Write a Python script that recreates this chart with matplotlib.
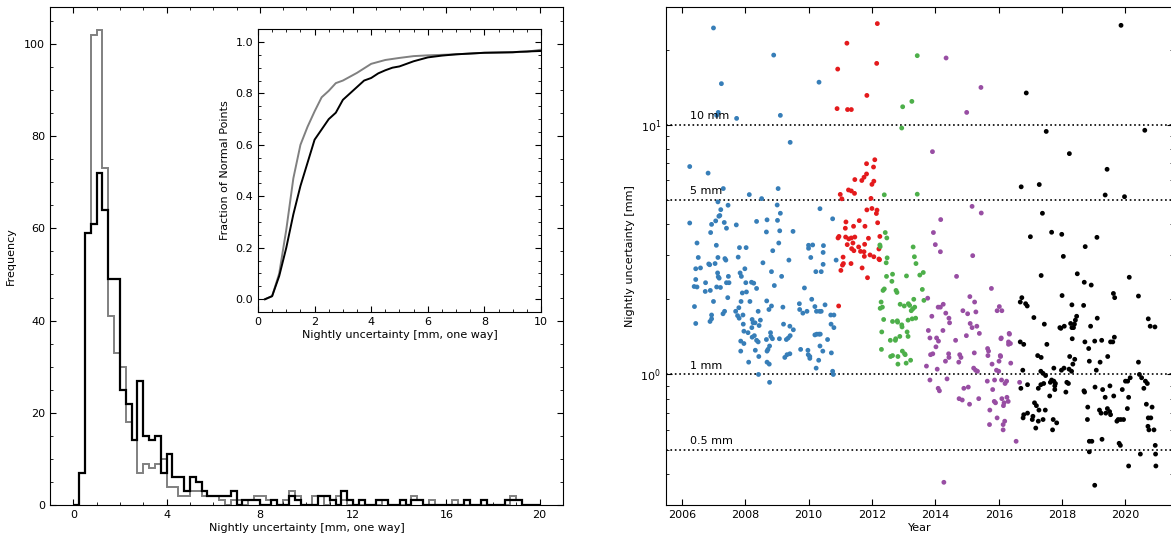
import numpy as np
import matplotlib
matplotlib.use("Agg")
import matplotlib.pyplot as plt
from matplotlib.ticker import MultipleLocator, NullLocator

# ---- histogram: counts per 0.25 mm bin, 0..20 mm ----
bin_edges = np.arange(0, 20.01, 0.25)
counts_black = [0, 7, 59, 61, 72, 64, 49, 49, 25, 22, 14, 27, 15, 14, 15, 7,
                11, 6, 6, 3, 6, 5, 3, 2, 2, 2, 2, 3, 0, 1, 1, 1,
                0, 0, 1, 0, 0, 2, 1, 0, 0, 0, 2, 2, 1, 0, 3, 1,
                0, 1, 0, 0, 1, 1, 0, 0, 1, 0, 1, 1, 0, 0, 0, 0,
                0, 0, 0, 1, 0, 0, 1, 0, 0, 0, 1, 1, 1, 0, 0, 0]
counts_gray = [0, 7, 59, 102, 103, 73, 41, 33, 30, 18, 14, 7, 9, 8, 9, 10,
               4, 4, 2, 2, 3, 3, 2, 2, 2, 1, 0, 1, 1, 0, 1, 2,
               2, 1, 1, 0, 1, 3, 2, 0, 0, 2, 2, 0, 1, 2, 1, 0,
               0, 0, 0, 0, 0, 1, 0, 0, 0, 0, 2, 1, 0, 1, 0, 0,
               0, 1, 0, 0, 0, 0, 0, 0, 0, 0, 0, 2, 1, 0, 0, 0]

# ---- inset: cumulative fraction ----
cdf_x_black = [0.25, 0.5, 0.75, 1.0, 1.25, 1.5, 1.75, 2.0, 2.25, 2.5, 2.75, 3.0,
               3.25, 3.5, 3.75, 4.0, 4.25, 4.5, 4.75, 5.0, 5.5, 6.0, 6.5, 7.0,
               8.0, 9.0, 9.25, 10.0]
cdf_y_black = [0.0, 0.012, 0.09, 0.2, 0.33, 0.44, 0.53, 0.62, 0.66, 0.70, 0.725,
               0.775, 0.80, 0.825, 0.85, 0.86, 0.878, 0.89, 0.90, 0.905, 0.925,
               0.94, 0.947, 0.952, 0.958, 0.96, 0.962, 0.965]
cdf_x_gray = [0.25, 0.5, 0.75, 1.0, 1.25, 1.5, 1.75, 2.0, 2.25, 2.5, 2.75, 3.0,
              3.5, 4.0, 4.5, 5.0, 5.5, 6.0, 7.0, 8.0, 9.0, 9.5, 10.0]
cdf_y_gray = [0.0, 0.012, 0.10, 0.27, 0.47, 0.60, 0.67, 0.73, 0.785, 0.81, 0.84,
              0.85, 0.88, 0.915, 0.93, 0.938, 0.945, 0.948, 0.952, 0.958, 0.96,
              0.962, 0.97]

# ---- nightly uncertainty per campaign: (year, mm) ----
pts_blue = [
    (2007.0, 24.4), (2007.25, 14.6), (2007.1, 10.9), (2007.15, 11.2), (2007.73, 10.6),
    (2008.9, 19.0), (2009.11, 10.9), (2009.42, 8.5), (2010.33, 14.8), (2006.25, 6.8),
    (2006.83, 6.4), (2007.31, 5.55), (2009.04, 5.55), (2008.13, 5.25), (2008.52, 5.06),
    (2007.14, 4.91), (2007.46, 4.76), (2009.01, 4.77), (2007.23, 4.57), (2009.11, 4.42),
    (2010.36, 4.61), (2007.2, 4.33), (2007.17, 4.30), (2006.25, 4.04), (2006.94, 3.99),
    (2007.07, 4.12), (2007.34, 4.06), (2007.41, 3.85), (2007.72, 3.97), (2008.36, 4.1),
    (2008.69, 4.16), (2009.02, 4.14), (2010.76, 4.2), (2006.91, 3.70), (2008.67, 3.72),
    (2009.09, 3.76), (2009.51, 3.74), (2006.48, 3.36), (2007.09, 3.29), (2007.82, 3.22),
    (2008.03, 3.22), (2009.06, 3.36), (2008.87, 3.13), (2010.0, 3.29), (2010.13, 3.30),
    (2010.0, 3.2), (2010.47, 3.28), (2010.46, 3.08), (2006.52, 2.94), (2007.14, 2.94),
    (2007.36, 2.91), (2007.39, 2.87), (2007.78, 2.95), (2009.38, 2.87), (2010.07, 2.94),
    (2010.87, 2.87), (2006.44, 2.65), (2006.59, 2.67), (2006.85, 2.77), (2006.88, 2.75),
    (2007.05, 2.78), (2007.99, 2.65), (2008.56, 2.8), (2008.83, 2.58), (2010.23, 2.58),
    (2010.4, 2.58), (2010.46, 2.76), (2006.44, 2.40), (2007.13, 2.55), (2007.15, 2.46),
    (2007.18, 2.43), (2007.47, 2.47), (2009.15, 2.47), (2006.75, 2.33), (2006.9, 2.17),
    (2006.39, 2.25), (2006.48, 2.24), (2006.74, 2.15), (2007.1, 2.24), (2007.22, 2.23),
    (2007.41, 2.33), (2007.49, 2.33), (2007.0, 1.96), (2007.45, 2.03), (2008.02, 2.33),
    (2008.2, 2.34), (2008.27, 2.32), (2008.36, 2.21), (2008.04, 2.14), (2007.91, 2.12),
    (2007.87, 1.96), (2008.15, 1.96), (2007.7, 1.79), (2007.8, 1.85), (2007.76, 1.72),
    (2007.81, 1.68), (2007.84, 2.55), (2007.88, 2.47), (2007.3, 1.75), (2007.35, 1.79),
    (2006.94, 1.73), (2006.89, 1.63), (2006.94, 1.67), (2006.44, 1.60), (2006.4, 1.87),
    (2007.93, 1.73), (2007.94, 1.59), (2008.09, 1.47), (2007.96, 1.49), (2008.21, 1.54),
    (2008.25, 1.61), (2008.44, 1.57), (2008.48, 1.65), (2008.31, 1.61), (2008.29, 1.43),
    (2008.22, 1.41), (2008.41, 1.79), (2008.68, 1.97), (2008.75, 1.82), (2008.83, 1.88),
    (2009.19, 1.86), (2009.21, 1.59), (2009.41, 1.56), (2009.52, 1.51), (2009.42, 1.43),
    (2009.36, 1.40), (2009.3, 1.38), (2009.08, 1.39), (2008.8, 1.47), (2008.81, 1.42),
    (2008.86, 1.39), (2008.67, 1.38), (2008.77, 1.30), (2008.72, 1.26), (2008.69, 1.24),
    (2008.36, 1.37), (2008.41, 1.35), (2008.32, 1.25), (2007.86, 1.36), (2007.96, 1.33),
    (2007.86, 1.24), (2008.11, 1.12), (2008.43, 1.18), (2008.42, 1.0), (2008.69, 1.12),
    (2008.76, 1.1), (2008.77, 0.93), (2009.25, 1.17), (2009.32, 1.20), (2009.41, 1.21),
    (2009.75, 1.26), (2009.71, 1.92), (2009.72, 1.82), (2009.82, 1.76), (2009.95, 1.79),
    (2009.87, 2.22), (2010.1, 2.0), (2010.2, 1.87), (2010.25, 1.79), (2010.35, 1.79),
    (2010.4, 1.79), (2010.52, 1.9), (2010.7, 1.73), (2010.8, 1.73), (2010.71, 1.59),
    (2010.8, 1.54), (2010.6, 1.38), (2010.2, 1.44), (2010.26, 1.45), (2010.33, 1.45),
    (2010.37, 1.45), (2010.36, 1.3), (2010.45, 1.24), (2009.98, 1.25), (2009.99, 1.2),
    (2010.04, 1.18), (2010.04, 1.16), (2010.32, 1.14), (2010.24, 1.06), (2010.72, 1.22),
    (2010.76, 1.03), (2010.78, 1.0), (2008.92, 2.27), (2008.22, 1.66),
]
pts_red = [
    (2012.17, 25.4), (2011.21, 21.2), (2012.15, 17.6), (2010.92, 16.7), (2011.84, 13.1),
    (2010.9, 11.6), (2011.23, 11.5), (2011.35, 11.5), (2012.09, 7.24), (2011.83, 6.98),
    (2012.05, 6.77), (2011.83, 6.35), (2011.75, 6.16), (2011.68, 5.98), (2011.46, 6.03),
    (2012.06, 5.94), (2012.0, 5.77), (2011.26, 5.48), (2011.35, 5.43), (2011.45, 5.31),
    (2011.0, 5.26), (2011.05, 5.05), (2011.97, 5.07), (2011.84, 4.56), (2012.0, 4.62),
    (2012.16, 4.55), (2012.14, 4.41), (2011.18, 4.08), (2011.6, 4.13), (2011.78, 3.92),
    (2012.18, 4.05), (2011.42, 3.92), (2011.16, 3.85), (2010.93, 3.52), (2010.96, 3.57),
    (2011.17, 3.55), (2011.27, 3.49), (2011.35, 3.52), (2011.46, 3.55), (2011.89, 3.51),
    (2012.25, 3.57), (2011.22, 3.31), (2011.4, 3.36), (2011.58, 3.24), (2011.77, 3.32),
    (2011.36, 3.19), (2011.43, 3.13), (2011.64, 3.11), (2011.75, 3.1), (2011.76, 2.97),
    (2011.94, 3.01), (2012.06, 2.96), (2012.22, 3.18), (2012.22, 2.9), (2011.09, 2.95),
    (2011.1, 2.78), (2011.07, 2.74), (2011.34, 2.78), (2011.02, 2.61), (2011.69, 2.67),
    (2011.86, 2.44), (2010.95, 1.88), (2012.24, 2.88),
]
pts_green = [
    (2013.43, 18.9), (2012.97, 11.8), (2013.26, 12.4), (2012.94, 9.7), (2012.39, 5.24),
    (2013.43, 5.27), (2012.42, 3.7), (2012.47, 3.52), (2012.25, 3.3), (2012.26, 3.25),
    (2013.3, 3.24), (2013.34, 2.96), (2013.39, 2.78), (2012.48, 2.93), (2012.45, 2.8),
    (2012.46, 2.47), (2012.65, 2.52), (2012.63, 2.36), (2013.09, 2.48), (2013.51, 2.5),
    (2013.62, 2.56), (2012.35, 2.17), (2012.39, 2.2), (2012.76, 2.17), (2012.79, 2.13),
    (2013.59, 2.19), (2012.29, 1.95), (2013.32, 2.0), (2013.64, 1.98), (2012.89, 1.91),
    (2013.02, 1.88), (2013.15, 1.92), (2013.19, 1.89), (2013.35, 1.86), (2012.26, 1.84),
    (2012.33, 1.86), (2013.24, 1.80), (2013.29, 1.83), (2012.37, 1.66), (2012.65, 1.63),
    (2012.8, 1.64), (2012.81, 1.62), (2012.94, 1.58), (2013.14, 1.65), (2013.27, 1.67),
    (2013.38, 1.68), (2012.31, 1.48), (2013.11, 1.48), (2012.58, 1.37), (2012.74, 1.37),
    (2012.75, 1.39), (2012.88, 1.42), (2013.14, 1.42), (2012.3, 1.26), (2012.59, 1.18),
    (2012.65, 1.19), (2012.82, 1.18), (2012.96, 1.24), (2013.05, 1.2), (2013.22, 1.14),
    (2013.08, 1.11), (2012.82, 1.10), (2012.95, 1.55), (2013.03, 1.21),
]
pts_purple = [
    (2014.34, 18.5), (2015.44, 14.1), (2014.99, 11.2), (2013.91, 7.8), (2015.16, 4.71),
    (2015.45, 4.43), (2014.17, 4.17), (2013.94, 3.7), (2014.0, 3.31), (2014.16, 3.1),
    (2015.18, 2.99), (2014.67, 2.47), (2015.77, 2.21), (2013.76, 2.02), (2015.09, 2.05),
    (2014.25, 1.91), (2014.09, 1.86), (2014.16, 1.86), (2015.24, 1.95), (2016.02, 1.87),
    (2015.95, 1.8), (2016.1, 1.8), (2014.87, 1.8), (2015.02, 1.75), (2015.28, 1.78),
    (2014.33, 1.76), (2013.89, 1.71), (2014.43, 1.68), (2014.45, 1.61), (2015.1, 1.6),
    (2015.16, 1.54), (2015.31, 1.56), (2013.78, 1.5), (2014.24, 1.5), (2015.39, 1.46),
    (2014.98, 1.43), (2013.83, 1.4), (2014.04, 1.4), (2014.1, 1.36), (2014.02, 1.29),
    (2014.64, 1.37), (2016.07, 1.39), (2016.34, 1.45), (2016.37, 1.33), (2016.31, 1.32),
    (2015.65, 1.27), (2015.68, 1.24), (2015.66, 1.19), (2016.05, 1.19), (2015.23, 1.22),
    (2014.77, 1.2), (2014.81, 1.17), (2014.74, 1.12), (2014.43, 1.17), (2014.32, 1.13),
    (2013.85, 1.2), (2013.92, 1.21), (2014.42, 1.21), (2013.72, 1.08), (2014.06, 1.05),
    (2015.79, 1.1), (2016.01, 1.13), (2016.38, 1.11), (2015.21, 1.06), (2015.27, 1.04),
    (2015.33, 1.03), (2015.93, 1.04), (2016.0, 1.03), (2013.83, 0.95), (2014.37, 0.96),
    (2015.64, 0.94), (2015.87, 0.95), (2016.09, 0.95), (2016.25, 0.94), (2016.2, 0.92),
    (2015.81, 0.87), (2014.9, 0.88), (2015.04, 0.89), (2014.09, 0.88), (2014.13, 0.86),
    (2014.75, 0.80), (2014.85, 0.79), (2015.37, 0.80), (2015.08, 0.76), (2015.86, 0.78),
    (2015.9, 0.77), (2016.1, 0.8), (2016.26, 0.81), (2016.3, 0.78), (2016.17, 0.77),
    (2016.15, 0.75), (2015.72, 0.72), (2015.95, 0.67), (2016.19, 0.65), (2016.14, 0.63),
    (2016.14, 0.60), (2015.71, 0.63), (2016.55, 0.54), (2014.27, 0.37), (2016.66, 0.93),
    (2016.33, 1.46), (2016.31, 1.35), (2016.08, 1.4), (2016.06, 1.18),
]
pts_black = [
    (2019.86, 25.0), (2016.87, 13.4), (2017.5, 9.4), (2020.61, 9.5), (2018.23, 7.66),
    (2019.42, 6.63), (2016.71, 5.64), (2017.28, 5.76), (2019.36, 5.23), (2019.97, 5.15),
    (2017.38, 4.42), (2017.0, 3.56), (2017.67, 3.71), (2017.99, 3.64), (2019.1, 3.54),
    (2018.73, 3.25), (2018.04, 2.97), (2017.34, 2.49), (2018.48, 2.53), (2020.12, 2.45),
    (2018.7, 2.34), (2018.92, 2.28), (2019.62, 2.11), (2019.66, 2.03), (2020.41, 2.06),
    (2016.73, 2.03), (2016.68, 1.95), (2016.85, 1.92), (2016.9, 1.88), (2018.0, 2.07),
    (2018.31, 1.9), (2017.11, 1.69), (2017.44, 1.59), (2018.68, 1.89), (2018.46, 1.71),
    (2018.42, 1.65), (2018.39, 1.59), (2018.27, 1.6), (2018.31, 1.54), (2017.93, 1.54),
    (2017.96, 1.53), (2018.07, 1.56), (2018.36, 1.54), (2019.11, 1.68), (2018.9, 1.56),
    (2020.72, 1.67), (2020.78, 1.56), (2020.93, 1.55), (2019.65, 1.41), (2019.6, 1.35),
    (2019.53, 1.35), (2019.25, 1.37), (2019.03, 1.36), (2018.32, 1.39), (2016.68, 1.35),
    (2016.79, 1.32), (2017.52, 1.32), (2018.72, 1.35), (2018.84, 1.27), (2017.23, 1.19),
    (2017.34, 1.17), (2018.24, 1.18), (2018.4, 1.15), (2018.34, 1.1), (2019.44, 1.18),
    (2018.86, 1.13), (2019.2, 1.12), (2020.41, 1.12), (2017.74, 1.06), (2017.98, 1.04),
    (2018.06, 1.06), (2018.22, 1.05), (2018.3, 1.03), (2016.76, 1.04), (2019.08, 1.04),
    (2017.33, 1.03), (2017.4, 1.01), (2017.48, 0.99), (2017.67, 0.95), (2017.74, 0.94),
    (2017.63, 0.93), (2017.79, 0.92), (2017.77, 0.87), (2017.77, 0.90), (2018.15, 0.93),
    (2018.2, 0.92), (2018.12, 0.85), (2016.7, 0.88), (2016.91, 0.91), (2017.25, 0.88),
    (2017.33, 0.91), (2017.42, 0.92), (2017.61, 0.82), (2018.69, 0.86), (2018.71, 0.85),
    (2019.04, 0.89), (2019.28, 0.87), (2019.51, 0.90), (2019.36, 0.81), (2019.63, 0.82),
    (2019.9, 0.87), (2020.0, 0.94), (2020.07, 0.94), (2020.15, 0.97), (2020.44, 1.0),
    (2020.51, 0.97), (2020.63, 0.94), (2020.69, 0.92), (2020.58, 0.88), (2020.1, 0.81),
    (2018.81, 0.74), (2020.06, 0.73), (2020.66, 0.76), (2020.84, 0.74), (2017.13, 0.77),
    (2017.19, 0.75), (2017.27, 0.72), (2017.47, 0.72), (2016.91, 0.70), (2016.79, 0.69),
    (2016.77, 0.67), (2017.08, 0.68), (2017.06, 0.66), (2017.25, 0.65), (2017.4, 0.66),
    (2017.17, 0.61), (2017.72, 0.66), (2017.83, 0.64), (2017.7, 0.6), (2018.8, 0.66),
    (2019.18, 0.72), (2019.23, 0.70), (2019.38, 0.70), (2019.43, 0.73), (2019.5, 0.71),
    (2019.53, 0.69), (2019.73, 0.65), (2019.77, 0.66), (2019.85, 0.66), (2019.94, 0.66),
    (2020.72, 0.67), (2020.8, 0.67), (2020.71, 0.62), (2020.74, 0.6), (2020.9, 0.6),
    (2018.86, 0.54), (2018.94, 0.54), (2018.86, 0.49), (2019.26, 0.55), (2019.8, 0.53),
    (2019.84, 0.52), (2020.94, 0.52), (2020.47, 0.48), (2020.95, 0.48), (2020.1, 0.43),
    (2020.96, 0.43), (2019.03, 0.36),
]
campaigns = [(pts_blue, "#377eb8"), (pts_red, "#e41a1c"), (pts_green, "#4daf4a"),
             (pts_purple, "#984ea3"), (pts_black, "black")]
ref_levels = [10, 5, 1, 0.5]
ref_labels = ["10 mm", "5 mm", "1 mm", "0.5 mm"]

plt.rcParams.update({
    "font.size": 8,
    "xtick.direction": "in", "ytick.direction": "in",
    "xtick.top": True, "ytick.right": True,
    "xtick.major.size": 4, "ytick.major.size": 4,
    "xtick.minor.size": 2, "ytick.minor.size": 2,
})

fig = plt.figure(figsize=(11.71, 5.39), dpi=100)

# left: histogram
ax1 = fig.add_axes([0.0427, 0.063, 0.438, 0.924])
ax1.stairs(counts_gray, bin_edges, color="#808080", lw=1.4)
ax1.stairs(counts_black, bin_edges, color="black", lw=1.6)
ax1.set_xlim(-1, 21)
ax1.set_ylim(0, 108)
ax1.xaxis.set_major_locator(MultipleLocator(4))
ax1.xaxis.set_minor_locator(MultipleLocator(1))
ax1.yaxis.set_major_locator(MultipleLocator(20))
ax1.yaxis.set_minor_locator(MultipleLocator(5))
ax1.set_xlabel("Nightly uncertainty [mm, one way]", labelpad=2)
ax1.set_ylabel("Frequency", labelpad=6)

# inset: cumulative fraction
axin = fig.add_axes([0.2203, 0.421, 0.2417, 0.525])
axin.plot(cdf_x_gray, cdf_y_gray, color="#808080", lw=1.4)
axin.plot(cdf_x_black, cdf_y_black, color="black", lw=1.4)
axin.set_xlim(0, 10)
axin.set_ylim(-0.05, 1.05)
axin.xaxis.set_major_locator(MultipleLocator(2))
axin.xaxis.set_minor_locator(MultipleLocator(0.5))
axin.yaxis.set_major_locator(MultipleLocator(0.2))
axin.yaxis.set_minor_locator(MultipleLocator(0.05))
axin.set_xlabel("Nightly uncertainty [mm, one way]", labelpad=2)
axin.set_ylabel("Fraction of Normal Points", labelpad=4)

# right: nightly uncertainty vs time
ax2 = fig.add_axes([0.5687, 0.063, 0.433, 0.924])
for pts, col in campaigns:
    yrs = [p[0] for p in pts]
    vals = [p[1] for p in pts]
    ax2.scatter(yrs, vals, s=12, color=col, edgecolors="none", zorder=3)
for lev, lab in zip(ref_levels, ref_labels):
    ax2.axhline(lev, color="black", ls=":", lw=1.2, zorder=2)
    ax2.text(2006.25, lev * 1.035, lab, va="bottom", ha="left", fontsize=8)
ax2.set_yscale("log")
ax2.set_xlim(2005.5, 2021.5)
ax2.set_ylim(0.3, 29.6)
ax2.xaxis.set_major_locator(MultipleLocator(2))
ax2.xaxis.set_minor_locator(NullLocator())
ax2.set_xlabel("Year", labelpad=2)
ax2.set_ylabel("Nightly uncertainty [mm]", labelpad=4)

fig.savefig("out.png", dpi=100)
